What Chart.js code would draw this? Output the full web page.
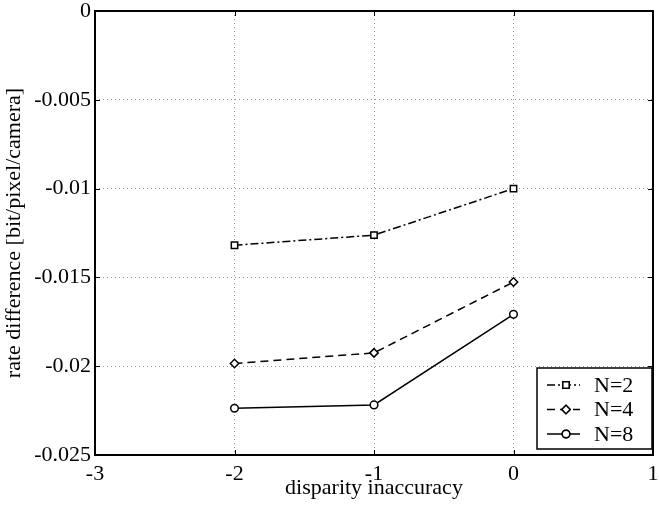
<!DOCTYPE html>
<html>
<head>
<meta charset="utf-8">
<script src="https://cdn.jsdelivr.net/npm/chart.js@4"></script>
<style>
  html, body { margin: 0; padding: 0; background: #fff; }
  #wrap { width: 659px; height: 508px; }
</style>
</head>
<body>
<div id="wrap"><canvas id="chart" width="659" height="508"></canvas></div>
<script>
// --- data ---
const disparity = [-2, -1, 0];
const rateN2 = [-0.01319, -0.01262, -0.01000];
const rateN4 = [-0.01985, -0.01925, -0.01526];
const rateN8 = [-0.02237, -0.02218, -0.01708];
const seriesNames = ['N=2', 'N=4', 'N=8'];
const xTicks = [-3, -2, -1, 0, 1];
const yTicks = [0, -0.005, -0.01, -0.015, -0.02, -0.025];

const FONT = 'Liberation Serif, Times New Roman, serif';
const FSIZE = 22;

function pts(ys) { return disparity.map((x, i) => ({ x: x, y: ys[i] })); }

function series(label, ys, dash, style, r) {
    return {
        label: label, data: pts(ys),
        borderColor: '#000', borderWidth: 1.5, borderDash: dash,
        pointStyle: style, pointRadius: r, pointBorderWidth: 1.5,
        pointBackgroundColor: '#fff', pointBorderColor: '#000',
        tension: 0, fill: false
    };
}

// box, inward ticks and legend, the way matlab draws them
const matlabFrame = {
    id: 'matlabFrame',
    afterDatasetsDraw(chart) {
        const { ctx, chartArea: a, scales: { x, y } } = chart;
        ctx.save();
        ctx.strokeStyle = '#000';
        ctx.lineWidth = 1;
        ctx.beginPath();
        xTicks.forEach(v => {
            const px = Math.round(x.getPixelForValue(v)) + 0.5;
            ctx.moveTo(px, a.bottom); ctx.lineTo(px, a.bottom - 5);
            ctx.moveTo(px, a.top); ctx.lineTo(px, a.top + 5);
        });
        yTicks.forEach(v => {
            const py = Math.round(y.getPixelForValue(v)) + 0.5;
            ctx.moveTo(a.left, py); ctx.lineTo(a.left + 5, py);
            ctx.moveTo(a.right, py); ctx.lineTo(a.right - 5, py);
        });
        ctx.stroke();
        ctx.lineWidth = 2;
        ctx.strokeRect(a.left, a.top, a.right - a.left, a.bottom - a.top);

        // legend
        const bx = 537, by = 368, bw = 115, bh = 81;
        ctx.fillStyle = '#fff';
        ctx.fillRect(bx, by, bw, bh);
        ctx.lineWidth = 1.5;
        ctx.strokeRect(bx, by, bw, bh);
        ctx.font = FSIZE + 'px ' + FONT;
        ctx.textBaseline = 'middle';
        chart.data.datasets.forEach((ds, i) => {
            const ry = by + 17 + i * 24.5;
            ctx.save();
            ctx.lineWidth = ds.borderWidth;
            ctx.setLineDash(ds.borderDash);
            ctx.beginPath();
            ctx.moveTo(bx + 10, ry); ctx.lineTo(bx + 43, ry);
            ctx.stroke();
            ctx.restore();
            ctx.fillStyle = '#fff';
            ctx.lineWidth = ds.pointBorderWidth;
            Chart.helpers.drawPoint(ctx, { pointStyle: ds.pointStyle, radius: ds.pointRadius, rotation: 0, borderWidth: 1.5 }, bx + 29, ry);
            ctx.fill(); ctx.stroke();
            ctx.fillStyle = '#000';
            ctx.fillText(ds.label, bx + 57, ry + 1);
        });
        ctx.restore();
    }
};

new Chart(document.getElementById('chart'), {
    type: 'line',
    data: {
        datasets: [
            series(seriesNames[0], rateN2, [8, 3, 2, 3], 'rect', 4.5),
            series(seriesNames[1], rateN4, [8, 5], 'rectRot', 4.2),
            series(seriesNames[2], rateN8, [], 'circle', 3.8)
        ]
    },
    options: {
        responsive: false,
        animation: false,
        layout: { padding: { top: 11, right: 2, left: 0, bottom: 0 } },
        plugins: { legend: { display: false }, tooltip: { enabled: false } },
        scales: {
            x: {
                type: 'linear', min: -3, max: 1,
                afterBuildTicks: s => { s.ticks = xTicks.map(v => ({ value: v })); },
                afterFit: s => { s.height = 53; s.paddingLeft = 0; s.paddingRight = 0; },
                grid: { color: '#999', lineWidth: 1, drawTicks: false },
                border: { display: false, dash: [1, 3] },
                ticks: { color: '#000', font: { family: FONT, size: FSIZE }, padding: 6, maxRotation: 0 },
                title: { display: true, text: 'disparity inaccuracy', color: '#000', font: { family: FONT, size: FSIZE }, padding: { top: 0, bottom: 7 } }
            },
            y: {
                type: 'linear', min: -0.025, max: 0,
                afterBuildTicks: s => { s.ticks = yTicks.map(v => ({ value: v })); },
                afterFit: s => { s.width = 95; s.paddingTop = 0; s.paddingBottom = 0; },
                grid: { color: '#999', lineWidth: 1, drawTicks: false },
                border: { display: false, dash: [1, 3] },
                ticks: { color: '#000', font: { family: FONT, size: FSIZE }, padding: 4, callback: v => String(v) },
                title: { display: true, text: 'rate difference [bit/pixel/camera]', color: '#000', font: { family: FONT, size: FSIZE }, padding: { top: 1, bottom: 0 } }
            }
        }
    },
    plugins: [matlabFrame]
});
</script>
</body>
</html>
